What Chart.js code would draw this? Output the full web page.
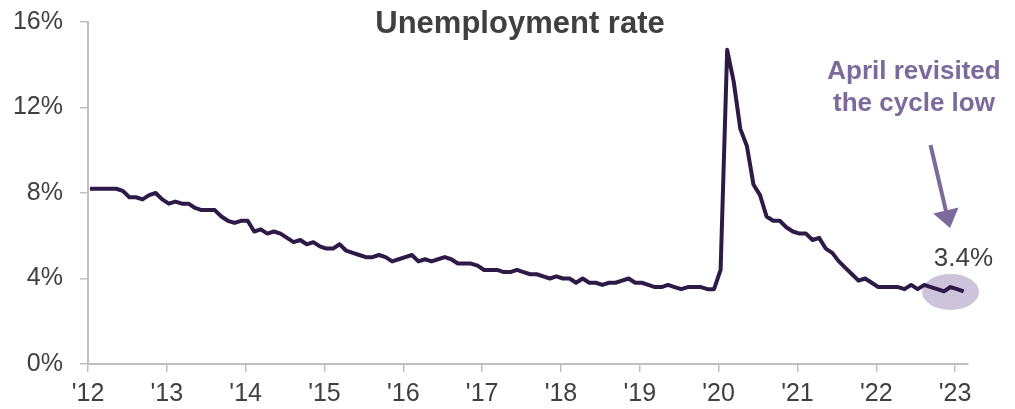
<!DOCTYPE html>
<html>
<head>
<meta charset="utf-8">
<script src="https://cdn.jsdelivr.net/npm/chart.js@4/dist/chart.umd.min.js"></script>
<style>
  html, body { margin: 0; padding: 0; background: #ffffff; }
  #wrap { width: 1015px; height: 409px; position: relative; }
</style>
</head>
<body>
<div id="wrap"><canvas id="c" width="1015" height="409"></canvas></div>
<script>
// ---- DATA (monthly US unemployment rate, %, Mar 2012 .. Apr 2023) ----
const startMonth = "2012-03";
const rate2012 = [8.2, 8.2, 8.2, 8.2, 8.2, 8.1, 7.8, 7.8, 7.7, 7.9];
const rate2013 = [8.0, 7.7, 7.5, 7.6, 7.5, 7.5, 7.3, 7.2, 7.2, 7.2, 6.9, 6.7];
const rate2014 = [6.6, 6.7, 6.7, 6.2, 6.3, 6.1, 6.2, 6.1, 5.9, 5.7, 5.8, 5.6];
const rate2015 = [5.7, 5.5, 5.4, 5.4, 5.6, 5.3, 5.2, 5.1, 5.0, 5.0, 5.1, 5.0];
const rate2016 = [4.8, 4.9, 5.0, 5.1, 4.8, 4.9, 4.8, 4.9, 5.0, 4.9, 4.7, 4.7];
const rate2017 = [4.7, 4.6, 4.4, 4.4, 4.4, 4.3, 4.3, 4.4, 4.3, 4.2, 4.2, 4.1];
const rate2018 = [4.0, 4.1, 4.0, 4.0, 3.8, 4.0, 3.8, 3.8, 3.7, 3.8, 3.8, 3.9];
const rate2019 = [4.0, 3.8, 3.8, 3.7, 3.6, 3.6, 3.7, 3.6, 3.5, 3.6, 3.6, 3.6];
const rate2020 = [3.5, 3.5, 4.4, 14.7, 13.2, 11.0, 10.2, 8.4, 7.9, 6.9, 6.7, 6.7];
const rate2021 = [6.4, 6.2, 6.1, 6.1, 5.8, 5.9, 5.4, 5.2, 4.8, 4.5, 4.2, 3.9];
const rate2022 = [4.0, 3.8, 3.6, 3.6, 3.6, 3.6, 3.5, 3.7, 3.5, 3.7, 3.6, 3.5];
const rate2023 = [3.4, 3.6, 3.5, 3.4];

const xTickLabels = ["'12", "'13", "'14", "'15", "'16", "'17", "'18", "'19", "'20", "'21", "'22", "'23"];
const yTickValues = [0, 4, 8, 12, 16];
const titleText = "Unemployment rate";
const noteLines = ["April revisited", "the cycle low"];
const lastLabel = "3.4%";

// ---- build ----
const values = [].concat(rate2012, rate2013, rate2014, rate2015, rate2016, rate2017,
                         rate2018, rate2019, rate2020, rate2021, rate2022, rate2023);
const points = values.map((v, i) => ({ x: i, y: v }));
// year tick positions in month-index units (axis starts slightly before first point)
const tickOffset = -0.3;
const xTickPositions = xTickLabels.map((_, k) => tickOffset + 12 * k);

const FONT = "'Liberation Sans', Arial, Helvetica, sans-serif";
const TEXT = '#404040';
const AXIS = '#bfbfbf';
const LINE = '#2e1a47';
const NOTE = '#7b6a9b';

const annot = {
  id: 'annot',
  beforeDatasetsDraw(chart) {
    const { ctx, scales: { x, y } } = chart;
    const cx = x.getPixelForValue(131);
    const cy = y.getPixelForValue(3.37);
    ctx.save();
    ctx.fillStyle = '#cdc4db';
    ctx.beginPath();
    ctx.ellipse(cx, cy, 28.5, 18, 0, 0, Math.PI * 2);
    ctx.fill();
    ctx.restore();
  },
  afterDraw(chart) {
    const { ctx } = chart;
    ctx.save();
    // title
    ctx.fillStyle = TEXT;
    ctx.font = 'bold 31px ' + FONT;
    ctx.textAlign = 'center';
    ctx.textBaseline = 'alphabetic';
    ctx.fillText(titleText, 520, 33);
    // note
    ctx.fillStyle = NOTE;
    ctx.font = 'bold 26px ' + FONT;
    ctx.fillText(noteLines[0], 914, 79);
    ctx.fillText(noteLines[1], 914, 111);
    // arrow
    const x0 = 930.5, y0 = 145, tx = 950, ty = 228;
    const dx = tx - x0, dy = ty - y0, len = Math.hypot(dx, dy);
    const ux = dx / len, uy = dy / len;
    const bx = tx - 18 * ux, by = ty - 18 * uy;
    ctx.strokeStyle = NOTE;
    ctx.lineWidth = 4;
    ctx.beginPath();
    ctx.moveTo(x0, y0);
    ctx.lineTo(bx + 2 * ux, by + 2 * uy);
    ctx.stroke();
    ctx.beginPath();
    ctx.moveTo(tx, ty);
    ctx.lineTo(bx + 13 * uy, by - 13 * ux);
    ctx.lineTo(bx - 13 * uy, by + 13 * ux);
    ctx.closePath();
    ctx.fillStyle = NOTE;
    ctx.fill();
    // last value label
    ctx.fillStyle = TEXT;
    ctx.font = '26px ' + FONT;
    ctx.textAlign = 'center';
    ctx.fillText(lastLabel, 963.5, 266);
    ctx.restore();
  }
};

new Chart(document.getElementById('c'), {
  type: 'line',
  data: {
    datasets: [{
      label: 'Unemployment rate',
      data: points,
      borderColor: LINE,
      backgroundColor: LINE,
      borderWidth: 4,
      pointRadius: 0,
      tension: 0,
      borderJoinStyle: 'round',
      borderCapStyle: 'butt',
      fill: false
    }]
  },
  options: {
    responsive: false,
    animation: false,
    events: [],
    layout: { padding: { left: 0, right: 47, top: 22, bottom: 0 } },
    plugins: { legend: { display: false }, title: { display: false }, tooltip: { enabled: false } },
    scales: {
      x: {
        type: 'linear',
        min: tickOffset,
        max: 133.66,
        afterBuildTicks(scale) { scale.ticks = xTickPositions.map(v => ({ value: v })); },
        afterFit(scale) { scale.height = 45; scale.paddingLeft = 0; scale.paddingRight = 0; },
        ticks: {
          autoSkip: false,
          maxRotation: 0,
          minRotation: 0,
          padding: 7,
          color: TEXT,
          font: { family: FONT, size: 25 },
          callback: (v, i) => xTickLabels[i]
        },
        grid: { display: true, drawOnChartArea: false, drawTicks: true, tickLength: 8, color: AXIS, lineWidth: 1.5 },
        border: { display: true, color: AXIS, width: 2 }
      },
      y: {
        type: 'linear',
        min: 0,
        max: 16,
        afterBuildTicks(scale) { scale.ticks = yTickValues.map(v => ({ value: v })); },
        afterFit(scale) { scale.width = 88; scale.paddingTop = 0; scale.paddingBottom = 0; },
        ticks: {
          padding: 17,
          color: TEXT,
          font: { family: FONT, size: 25 },
          callback: v => v + '%'
        },
        grid: { display: true, drawOnChartArea: false, drawTicks: true, tickLength: 8, color: AXIS, lineWidth: 1.5 },
        border: { display: true, color: AXIS, width: 2 }
      }
    }
  },
  plugins: [annot]
});
</script>
</body>
</html>
